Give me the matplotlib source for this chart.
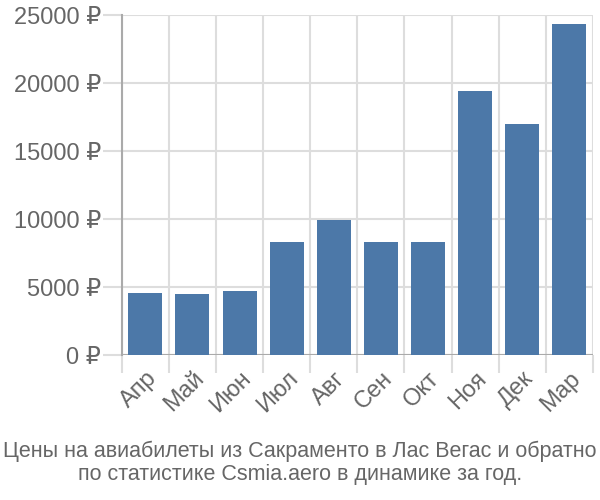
import matplotlib.pyplot as plt
import numpy as np
from matplotlib.ticker import FixedLocator

plt.rcParams["font.family"] = ["Liberation Sans", "DejaVu Sans"]

months = ["Апр", "Май", "Июн", "Июл", "Авг", "Сен", "Окт", "Ноя", "Дек", "Мар"]
prices = [4560, 4490, 4710, 8310, 9930, 8310, 8310, 19410, 16990, 24340]
y_ticks = [0, 5000, 10000, 15000, 20000, 25000]
title = ("Цены на авиабилеты из Сакраменто в Лас Вегас и обратно\n"
         "по статистике Csmia.aero в динамике за год.")

BAR_COLOR = "#4c78a8"
GRID_COLOR = "#dddddd"
TEXT_COLOR = "#666666"

fig = plt.figure(figsize=(6, 5), dpi=100)
ax = fig.add_axes([0.203, 0.29, 0.785, 0.68])

x = np.arange(len(months))
ax.bar(x, prices, width=0.72, color=BAR_COLOR, zorder=3)

ax.set_xlim(-0.5, len(months) - 0.5)
ax.set_ylim(0, 25000)

ax.set_xticks(x)
ax.set_xticklabels(months, rotation=45, ha="right", rotation_mode="anchor",
                   fontsize=17, color=TEXT_COLOR)
ax.xaxis.set_minor_locator(FixedLocator(np.arange(-0.5, len(months), 1.0)))
ax.tick_params(axis="x", which="major", length=0, pad=9)
ax.tick_params(axis="x", which="minor", length=13, color=GRID_COLOR, width=1.5)
ax.grid(axis="x", which="minor", color=GRID_COLOR, linewidth=1.5, zorder=0)

ax.set_yticks(y_ticks)
ax.set_yticklabels([f"{v} ₽" for v in y_ticks], fontsize=17, color=TEXT_COLOR)
ax.tick_params(axis="y", length=14, color=GRID_COLOR, width=1.5, pad=1)
ax.grid(axis="y", color=GRID_COLOR, linewidth=1.5, zorder=0)
ax.axhline(0, color="#aaaaaa", linewidth=1.5, zorder=2)

for side in ["top", "right", "bottom"]:
    ax.spines[side].set_visible(False)
ax.spines["left"].set_color("#aaaaaa")
ax.spines["left"].set_linewidth(1.5)

fig.text(0.5, 0.03, title, ha="center", va="bottom", fontsize=15.5,
         color=TEXT_COLOR, linespacing=1.15)

fig.savefig("out.png", dpi=100)
